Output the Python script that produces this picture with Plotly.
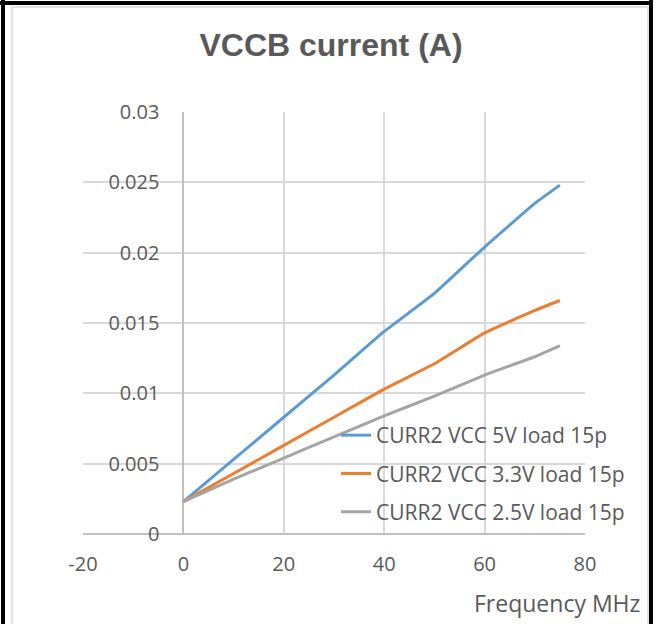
import plotly.graph_objects as go

# ---- data ----
freq_mhz = [0, 10, 20, 30, 40, 50, 60, 70, 75]
curr_5v = [0.0023, 0.0053, 0.0083, 0.0113, 0.0144, 0.0171, 0.0204, 0.0235, 0.0248]
curr_3v3 = [0.0023, 0.0043, 0.0063, 0.0083, 0.0103, 0.0121, 0.0143, 0.0159, 0.0166]
curr_2v5 = [0.0023, 0.0039, 0.0054, 0.0069, 0.0084, 0.0098, 0.0113, 0.0126, 0.0134]
series_names = ["CURR2 VCC 5V load 15p", "CURR2 VCC 3.3V load 15p", "CURR2 VCC 2.5V load 15p"]
series_colors = ["#5b9bd5", "#ed7d31", "#a5a5a5"]
x_ticks = [-20, 0, 20, 40, 60, 80]
x_tick_text = ["-20", "0", "20", "40", "60", "80"]
y_ticks = [0, 0.005, 0.01, 0.015, 0.02, 0.025, 0.03]
y_tick_text = ["0", "0.005", "0.01", "0.015", "0.02", "0.025", "0.03"]

W, H = 659, 624
L, R, T, B = 83, 585, 112, 534  # plot area in px

def px_x(p):
    return (p - L) / (R - L)

def px_y(p):
    return (B - p) / (B - T)

fig = go.Figure()
for name, ys, col in zip(series_names, [curr_5v, curr_3v3, curr_2v5], series_colors):
    fig.add_trace(go.Scatter(x=freq_mhz, y=ys, mode="lines", name=name,
                             legendgroup=name,
                             line=dict(color=col, width=3, shape="spline", smoothing=0.3)))

tick_font = dict(family="Open Sans", size=20, color="#595959")

fig.update_layout(
    width=W, height=H,
    margin=dict(l=L, r=W - R, t=T, b=H - B, pad=0),
    paper_bgcolor="white", plot_bgcolor="white",
    title=dict(text="<b>VCCB current (A)</b>", x=331 / W, xanchor="center",
               y=1 - 45 / H, yanchor="middle",
               font=dict(family="Liberation Sans", size=32, color="#595959")),
    xaxis=dict(range=[-20, 80], tickvals=x_ticks, ticktext=x_tick_text, showgrid=True,
               gridcolor="#d9d9d9", gridwidth=1.5, zeroline=True, zerolinecolor="#c0c0c0",
               zerolinewidth=2, showline=False, ticks="", tickfont=tick_font,
               ticklabelstandoff=16, fixedrange=True),
    yaxis=dict(range=[0, 0.03], tickvals=y_ticks, ticktext=y_tick_text,
               anchor="free", position=px_x(183.4), showgrid=True, gridcolor="#d9d9d9",
               gridwidth=1.5, zeroline=True, zerolinecolor="#c0c0c0", zerolinewidth=2,
               showline=False, ticks="", tickfont=tick_font, ticklabelstandoff=24,
               fixedrange=True),
    legend=dict(x=px_x(336), y=px_y(415), xanchor="left", yanchor="top",
                bgcolor="rgba(0,0,0,0)", font=dict(family="Open Sans", size=21, color="#595959"),
                traceorder="grouped", tracegroupgap=8, itemwidth=30),
    showlegend=True,
)

fig.add_annotation(text="Frequency MHz", xref="paper", yref="paper",
                   x=px_x(642), y=px_y(603), xanchor="right", yanchor="middle",
                   showarrow=False, font=dict(family="Open Sans", size=23, color="#595959"))

# chart frame (inner light border, outer black border)
fig.add_shape(type="rect", xref="paper", yref="paper",
              x0=px_x(12), x1=px_x(648), y0=px_y(640), y1=px_y(7),
              line=dict(color="#d9d9d9", width=1.5), fillcolor="rgba(0,0,0,0)", layer="below")
frame = dict(color="black", width=4)
fig.add_shape(type="line", xref="paper", yref="paper",
              x0=px_x(0), x1=px_x(653), y0=px_y(3), y1=px_y(3), line=frame)
fig.add_shape(type="line", xref="paper", yref="paper",
              x0=px_x(3), x1=px_x(3), y0=px_y(0), y1=px_y(640), line=frame)
fig.add_shape(type="line", xref="paper", yref="paper",
              x0=px_x(651), x1=px_x(651), y0=px_y(0), y1=px_y(640), line=frame)

fig.write_html("out.html", config={"displayModeBar": False},
               post_script="document.body.style.margin='0';")
